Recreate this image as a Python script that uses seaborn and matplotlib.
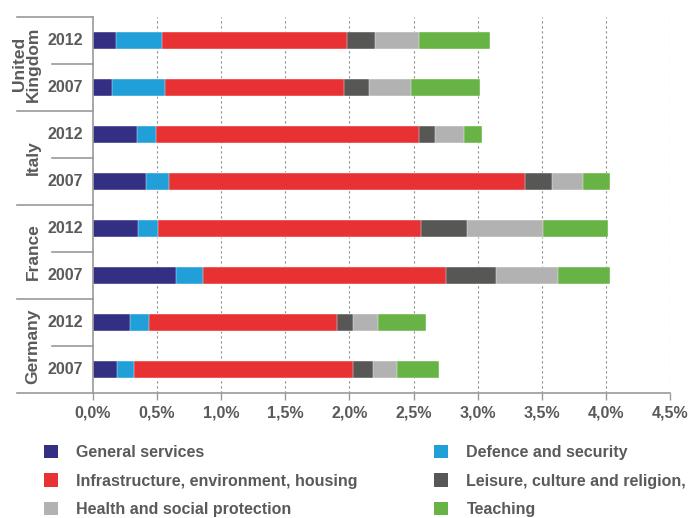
import matplotlib
matplotlib.use("Agg")
import matplotlib.pyplot as plt
import matplotlib.patches as mpatches
from matplotlib.ticker import FuncFormatter
import numpy as np
import pandas as pd
import seaborn as sns

# ---- data (share of GDP, %) ----
countries = ["United\nKingdom", "Italy", "France", "Germany"]
years = ["2012", "2007"]
rows = ["UK 2012", "UK 2007", "Italy 2012", "Italy 2007",
        "France 2012", "France 2007", "Germany 2012", "Germany 2007"]
categories = ["General services", "Defence and security",
              "Infrastructure, environment, housing",
              "Leisure, culture and religion,",
              "Health and social protection", "Teaching"]
general_services = [0.18, 0.15, 0.34, 0.41, 0.35, 0.65, 0.29, 0.19]
defence_security = [0.36, 0.41, 0.15, 0.18, 0.16, 0.21, 0.15, 0.13]
infrastructure   = [1.44, 1.40, 2.05, 2.78, 2.05, 1.89, 1.46, 1.71]
leisure_culture  = [0.22, 0.19, 0.13, 0.21, 0.36, 0.39, 0.13, 0.15]
health_social    = [0.34, 0.33, 0.22, 0.24, 0.59, 0.49, 0.19, 0.19]
teaching         = [0.56, 0.54, 0.14, 0.21, 0.51, 0.40, 0.38, 0.33]
colors = ["#332F82", "#209FD8", "#E83132", "#575756", "#B2B2B2", "#68B345"]
xticks = [0.0, 0.5, 1.0, 1.5, 2.0, 2.5, 3.0, 3.5, 4.0, 4.5]

series = [general_services, defence_security, infrastructure,
          leisure_culture, health_social, teaching]
df = pd.DataFrame({"row": rows})
for name, vals in zip(categories, series):
    df[name] = vals
cum = df[categories].cumsum(axis=1)

TXT = "#5A5A5A"
AX = "#9A9A9A"
plt.rcParams["font.family"] = ["Liberation Sans", "DejaVu Sans"]
plt.rcParams["font.weight"] = "bold"

fig = plt.figure(figsize=(6.91, 5.18), dpi=100)
ax = fig.add_axes([93/691, 1-393/518, 577/691, 376/518])

# draw stacked bars: largest cumulative first
for name, col in reversed(list(zip(categories, colors))):
    sns.barplot(x=cum[name], y=df["row"], order=rows, orient="h",
                color=col, width=0.38, ax=ax, saturation=1,
                edgecolor="white", linewidth=0.3)

ax.set_xlim(0, 4.5)
ax.set_ylim(7.5, -0.5)
ax.set_xlabel("")
ax.set_ylabel("")
ax.set_yticks([])
ax.set_xticks(xticks)
ax.xaxis.set_major_formatter(FuncFormatter(lambda v, p: f"{v:.1f}%".replace(".", ",")))
ax.tick_params(axis="x", direction="out", length=5, width=1, color=AX,
               labelcolor=TXT, labelsize=11.5, pad=4)
for lab in ax.get_xticklabels():
    lab.set_fontweight("bold")

for s in ["top", "right"]:
    ax.spines[s].set_visible(False)
for s in ["left", "bottom"]:
    ax.spines[s].set_color(AX)
    ax.spines[s].set_linewidth(1.2)

# dotted vertical gridlines
for xv in xticks[1:]:
    ax.axvline(xv, color="#8C8C8C", linestyle=(0, (2, 2.5)), linewidth=0.8, zorder=0)

trans = ax.get_yaxis_transform()
# group separators (long) and year separators (short)
for yv in [-0.5, 1.5, 3.5, 5.5, 7.5]:
    ax.plot([-0.132, 0], [yv, yv], transform=trans, color=AX, lw=1.2,
            clip_on=False)
for yv in [0.5, 2.5, 4.5, 6.5]:
    ax.plot([-0.071, 0], [yv, yv], transform=trans, color=AX, lw=1.2,
            clip_on=False)

# year labels
for i in range(8):
    ax.text(-0.017, i, years[i % 2], transform=trans, ha="right", va="center",
            fontsize=11.5, fontweight="bold", color=TXT)
# country labels
cx = [-0.115, -0.104, -0.104, -0.104]
for j, c in enumerate(countries):
    ax.text(cx[j], 2*j + 0.5, c, transform=trans, ha="center", va="center",
            rotation=90, fontsize=12.5, fontweight="bold", color=TXT,
            multialignment="center", linespacing=0.92)

# legend (two columns)
def make_handles(idx):
    return [mpatches.Patch(facecolor=colors[k], edgecolor="none") for k in idx]

kw = dict(frameon=False, fontsize=11.5, handlelength=0.88, handleheight=0.88,
          handletextpad=1.15, labelspacing=0.82, borderpad=0, borderaxespad=0,
          loc="center left", labelcolor=TXT)
leg1 = fig.legend(make_handles([0, 2, 4]), [categories[k] for k in [0, 2, 4]],
                  bbox_to_anchor=(44/691, 1-481/518), **kw)
leg2 = fig.legend(make_handles([1, 3, 5]), [categories[k] for k in [1, 3, 5]],
                  bbox_to_anchor=(434/691, 1-481/518), **kw)
for lg in (leg1, leg2):
    for t in lg.get_texts():
        t.set_fontweight("bold")

fig.savefig("out.png", dpi=100)
